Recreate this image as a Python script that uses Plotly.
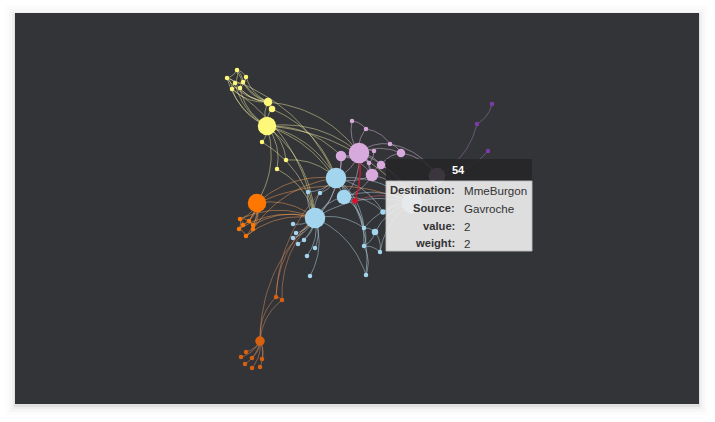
import numpy as np
import plotly.graph_objects as go

# node positions (pixel space of the 715x422 page)
node_x = [267, 268, 272, 237, 227, 246, 232, 240, 243, 235, 262, 286, 277,
          257, 240, 249, 253, 239, 253, 246, 243,
          260, 246, 241, 252, 262, 245, 252, 260, 276, 282,
          336, 315, 344, 308, 320, 293, 296, 293, 298, 304, 307, 315, 310,
          364, 375, 364, 380, 366, 383, 412,
          359, 341, 372, 381, 401, 352, 366, 390, 374, 369, 437,
          492, 477, 488,
          355]
node_y = [126, 102, 109, 70, 78, 77, 89, 88, 82, 83, 142, 160, 169,
          203, 219, 221, 225, 229, 229, 236, 225,
          341, 352, 357, 358, 359, 364, 368, 367, 297, 300,
          178, 218, 197, 192, 193, 224, 233, 238, 244, 240, 256, 248, 276,
          228, 232, 246, 252, 275, 212, 203,
          153, 156, 175, 165, 153, 121, 129, 144, 151, 163, 176,
          104, 124, 151,
          201]
node_r = [9, 4, 3, 2, 2, 2, 2, 2, 2, 2, 2, 2, 2,
          9, 2, 2, 2, 2, 2, 2, 2,
          4.5, 2, 2, 2, 2, 2, 2, 2, 2, 2,
          10, 10, 7, 2, 2, 2, 2, 2, 2, 2, 2, 2, 2,
          2, 3, 2, 2, 2, 2.5, 10,
          10, 5, 6, 4, 4, 2, 2, 2, 2, 2, 8,
          2, 2, 2,
          2.5]
node_group = [0] * 13 + [1] * 8 + [2] * 10 + [3] * 20 + [4] * 11 + [5] * 3 + [6]

group_colors = ["#fdf77a", "#ff7700", "#d9600f", "#a3d6ee", "#d7a9dd", "#7d3aa8", "#e0102a"]

edge_src = [0, 0, 1, 1, 1, 1, 1, 1, 1, 1, 3, 3, 3, 4, 4, 5, 6, 7, 8, 6, 3, 5,
            0, 0, 0, 0, 0, 0, 0, 0, 0, 0, 0, 0, 0, 0, 2, 6, 4, 10, 11, 12, 1,
            13, 13, 13, 13, 13, 13, 13, 14, 14, 15, 16, 17, 17, 18, 14, 15, 13, 13, 13, 14, 16, 17, 19, 18,
            21, 21, 21, 21, 21, 21, 21, 21, 21, 29, 29, 30, 21, 29,
            31, 31, 32, 32, 32, 32, 32, 32, 32, 32, 32, 32, 32, 31, 31, 33, 31, 44, 44, 45, 46, 45, 46,
            31, 32, 33, 31, 31, 32, 33, 49, 45, 47, 44, 32, 31,
            51, 51, 51, 51, 51, 51, 51, 51, 51, 52, 53, 54, 56, 57, 58, 59, 52, 53, 51, 52, 53, 53, 51,
            54, 55, 53, 51, 52, 58,
            62, 63, 64, 61,
            65]
edge_dst = [1, 2, 2, 3, 4, 5, 6, 7, 8, 9, 4, 5, 8, 6, 9, 8, 7, 8, 9, 9, 9, 7,
            4, 6, 7, 9, 10, 11, 12, 31, 32, 51, 52, 33, 13, 50, 31, 32, 31, 32, 31, 32, 51,
            14, 15, 16, 17, 18, 19, 20, 15, 20, 16, 18, 19, 20, 19, 17, 18, 32, 31, 50, 32, 32, 32, 32, 31,
            22, 23, 24, 25, 26, 27, 28, 29, 30, 30, 32, 32, 32, 31,
            32, 33, 33, 34, 35, 36, 37, 38, 39, 40, 41, 42, 43, 34, 35, 44, 44, 45, 46, 46, 47, 47, 48,
            48, 48, 49, 49, 50, 50, 50, 50, 50, 50, 50, 44, 46,
            52, 53, 54, 55, 56, 57, 58, 59, 60, 53, 54, 55, 57, 58, 55, 60, 60, 60, 31, 31, 31, 33, 33,
            50, 61, 50, 50, 32, 61,
            63, 61, 61, 50,
            50]

hl_src, hl_dst = [65], [51]   # hovered edge Gavroche -> MmeBurgon


def curve(a, b, bend=0.22, n=24):
    x0, y0, x1, y1 = node_x[a], node_y[a], node_x[b], node_y[b]
    cx = (x0 + x1) / 2 + bend * (y1 - y0)
    cy = (y0 + y1) / 2 - bend * (x1 - x0)
    t = np.linspace(0, 1, n)
    xs = (1 - t) ** 2 * x0 + 2 * (1 - t) * t * cx + t ** 2 * x1
    ys = (1 - t) ** 2 * y0 + 2 * (1 - t) * t * cy + t ** 2 * y1
    return list(xs) + [None], list(ys) + [None]


def rgba(hexc, a, mix=0.35):
    # lighten toward white a bit, edges look paler than the nodes
    h = hexc.lstrip("#")
    c = [int(h[i:i + 2], 16) for i in (0, 2, 4)]
    c = [int(v + (255 - v) * mix) for v in c]
    return "rgba(%d,%d,%d,%s)" % (c[0], c[1], c[2], a)


fig = go.Figure()

for g, col in enumerate(group_colors):
    ex, ey = [], []
    for s, d in zip(edge_src, edge_dst):
        if node_group[s] != g:
            continue
        xs, ys = curve(s, d)
        ex += xs
        ey += ys
    if ex:
        fig.add_trace(go.Scatter(x=ex, y=ey, mode="lines", hoverinfo="skip",
                                 line=dict(color=rgba(col, 0.5), width=0.9)))

hx, hy = [], []
for s, d in zip(hl_src, hl_dst):
    xs, ys = curve(s, d, bend=-0.12)
    hx += xs
    hy += ys
fig.add_trace(go.Scatter(x=hx, y=hy, mode="lines", hoverinfo="skip",
                         line=dict(color="#d81b2c", width=1.3)))

fig.add_trace(go.Scatter(
    x=node_x, y=node_y, mode="markers", hoverinfo="skip",
    marker=dict(size=[2 * r + 0.5 for r in node_r],
                color=[group_colors[g] for g in node_group],
                line=dict(width=0), opacity=1),
))

# card with soft shadow
shapes = []
for k, a in [(9, 0.012), (6, 0.018), (3, 0.03), (1, 0.06)]:
    shapes.append(dict(type="rect", xref="x", yref="y", x0=15 - k, x1=699 + k, y0=13 - k + 2, y1=404 + k + 2,
                       fillcolor="rgba(0,0,0,%s)" % a, line=dict(width=0), layer="below"))
shapes.append(dict(type="rect", xref="x", yref="y", x0=15, x1=699, y0=13, y1=404,
                   fillcolor="#333438", line=dict(width=0), layer="below"))

# tooltip box
shapes.append(dict(type="rect", xref="x", yref="y", x0=386, x1=532, y0=159, y1=181,
                   fillcolor="rgba(38,38,40,0.88)", line=dict(width=0), layer="above"))
shapes.append(dict(type="rect", xref="x", yref="y", x0=386, x1=532, y0=181, y1=251,
                   fillcolor="rgba(236,236,236,0.93)", line=dict(color="rgba(190,190,190,0.9)", width=1),
                   layer="above"))

fig.update_layout(shapes=shapes)

tip_keys = ["Destination:", "Source:", "value:", "weight:"]
tip_vals = ["MmeBurgon", "Gavroche", "2", "2"]
row_y = [190, 208, 226, 243]

fig.add_annotation(x=458, y=170, text="<b>54</b>", showarrow=False, xref="x", yref="y",
                   font=dict(color="#ffffff", size=11, family="Liberation Sans"))
for k, v, y in zip(tip_keys, tip_vals, row_y):
    fig.add_annotation(x=457, y=y, text="<b>%s</b>" % k, showarrow=False, xanchor="right",
                       xref="x", yref="y", font=dict(color="#333333", size=11.2, family="Liberation Sans"))
    fig.add_annotation(x=462, y=y, text=v, showarrow=False, xanchor="left",
                       xref="x", yref="y", font=dict(color="#333333", size=11.6, family="Liberation Sans"))

fig.update_layout(
    width=715, height=422, autosize=False,
    margin=dict(l=0, r=0, t=0, b=0),
    paper_bgcolor="#ffffff", plot_bgcolor="rgba(0,0,0,0)",
    showlegend=False,
    xaxis=dict(range=[0, 715], visible=False, fixedrange=True),
    yaxis=dict(range=[422, 0], visible=False, fixedrange=True),
)

fig.write_html("out.html", config={"displayModeBar": False},
               post_script="document.body.style.margin='0';document.body.style.overflow='hidden';")
